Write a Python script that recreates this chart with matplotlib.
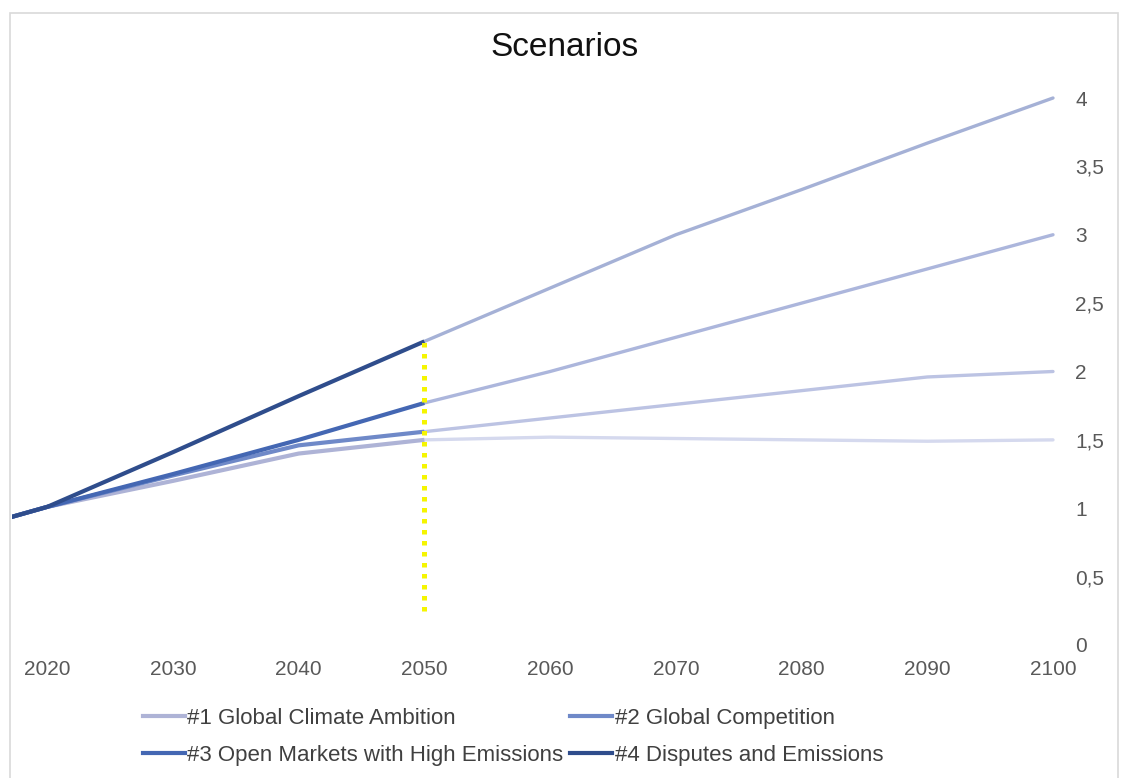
import matplotlib
matplotlib.use("Agg")
import matplotlib.pyplot as plt
from matplotlib.lines import Line2D
from matplotlib.patches import Rectangle

plt.rcParams["font.family"] = ["Liberation Sans", "DejaVu Sans"]

# Scenario index values (2020 = 1)
years = [2015, 2020, 2030, 2040, 2050, 2060, 2070, 2080, 2090, 2100]
climate_ambition = [0.88, 1.01, 1.20, 1.40, 1.50, 1.52, 1.51, 1.50, 1.49, 1.50]
global_competition = [0.88, 1.01, 1.24, 1.46, 1.56, 1.66, 1.76, 1.86, 1.96, 2.00]
open_markets = [0.88, 1.01, 1.25, 1.50, 1.77, 2.00, 2.25, 2.50, 2.75, 3.00]
disputes = [0.88, 1.01, 1.41, 1.82, 2.22, 2.61, 3.00, 3.33, 3.67, 4.00]

labels = [
    "#1 Global Climate Ambition",
    "#2 Global Competition",
    "#3 Open Markets with High Emissions",
    "#4 Disputes and Emissions",
]
series = [climate_ambition, global_competition, open_markets, disputes]
past_colors = ["#aeb3d6", "#6f89c8", "#4467b3", "#2f4d8c"]
future_colors = ["#d5d9ee", "#bcc3e3", "#acb6dc", "#a5b1d6"]

split_year = 2050
marker_low = 0.25

x_ticks = [2020, 2030, 2040, 2050, 2060, 2070, 2080, 2090, 2100]
y_ticks = [0, 0.5, 1, 1.5, 2, 2.5, 3, 3.5, 4]
y_tick_labels = ["0", "0,5", "1", "1,5", "2", "2,5", "3", "3,5", "4"]

W, H = 1121, 778
fig = plt.figure(figsize=(W / 100, H / 100), dpi=100)
fig.patch.set_facecolor("white")

# chart-area border
fig.patches.append(Rectangle((10 / W, -0.05), (1118 - 10) / W, 1.05 - 13 / H,
                             transform=fig.transFigure, fill=False,
                             edgecolor="#d9d9d9", linewidth=1.2))

ax = fig.add_axes([12 / W, 1 - 645 / H, (1053 - 12) / W, (645 - 98) / H])
ax.set_xlim(2017.2, 2100)
ax.set_ylim(0, 4)

split_idx = years.index(split_year)
for vals, fc in zip(series, future_colors):
    ax.plot(years[split_idx:], vals[split_idx:], color=fc, lw=2.4,
            solid_capstyle="round", clip_on=False, zorder=2)
for vals, pc in zip(series, past_colors):
    ax.plot(years[:split_idx + 1], vals[:split_idx + 1], color=pc, lw=3.0,
            solid_capstyle="butt", zorder=3)

# dotted marker at the split year
ax.plot([split_year, split_year], [marker_low, disputes[split_idx]],
        color="#f5f500", lw=3.6, linestyle=(0, (0.9, 1.3)),
        solid_capstyle="butt", zorder=4)

for s in ax.spines.values():
    s.set_visible(False)

ax.set_xticks(x_ticks)
ax.set_xticklabels([str(y) for y in x_ticks])
ax.yaxis.tick_right()
ax.set_yticks(y_ticks)
ax.set_yticklabels(y_tick_labels)
ax.tick_params(axis="both", length=0, labelsize=15, labelcolor="#595959")
ax.tick_params(axis="x", pad=11)
ax.tick_params(axis="y", pad=16)
for lbl in ax.get_yticklabels():
    lbl.set_horizontalalignment("left")

fig.text(565 / W, 1 - 48 / H, "Scenarios", ha="center", va="center",
         fontsize=24, color="#111111")

# legend laid out row-wise: #1 #2 / #3 #4
handles = [Line2D([], [], color=c, lw=3.0) for c in past_colors]
order = [0, 2, 1, 3]
leg = fig.legend([handles[i] for i in order], [labels[i] for i in order],
                 ncol=2, loc="center",
                 bbox_to_anchor=(513 / W, 1 - 737 / H), frameon=False,
                 fontsize=16, handlelength=1.9, handletextpad=0.1,
                 columnspacing=0.3, labelspacing=0.72, labelcolor="#404040")

fig.savefig("out.png", dpi=100)
